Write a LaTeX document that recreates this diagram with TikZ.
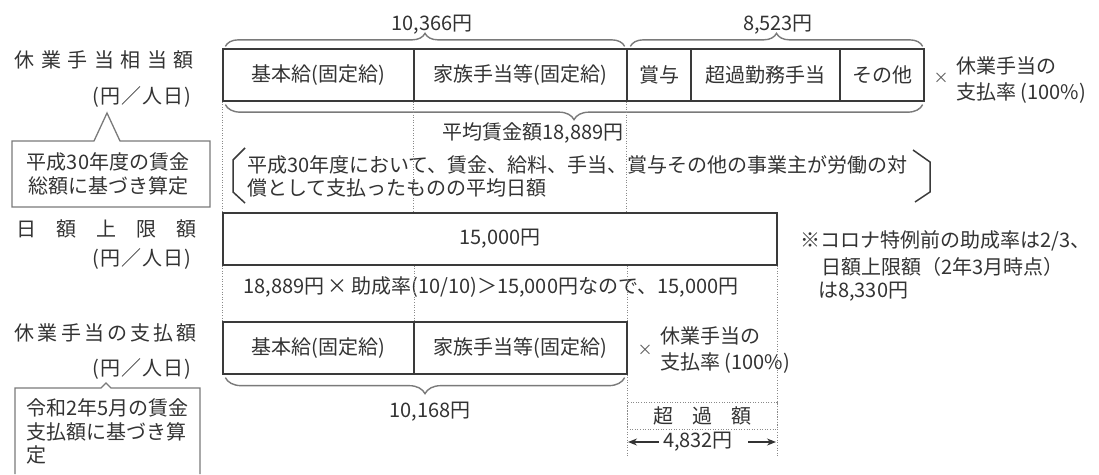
\documentclass[tikz,border=0pt]{standalone}
\usepackage{fontspec}
\setmainfont{Noto Sans CJK JP}
\usetikzlibrary{decorations.pathreplacing,arrows.meta,calc}
\definecolor{txt}{HTML}{333333}
\definecolor{ln}{HTML}{3A3A3A}
\definecolor{br}{HTML}{7A7A7A}
\definecolor{dt}{HTML}{8A8A8A}
\tikzset{
  cell/.style={draw=ln, line width=1.3pt, inner sep=0pt, minimum height=52pt, text=txt},
  lbl/.style={inner sep=0pt, text=txt},
  times/.style={inner sep=0pt, text=txt!80, font=\fontsize{15}{18}\selectfont},
  bracebig/.style={decorate, decoration={brace, amplitude=#1}, draw=br, line width=1.4pt},
  dotl/.style={draw=dt, line width=0.9pt, dash pattern=on 1pt off 1.6pt},
  callout/.style={draw=br, line width=1.3pt},
  paren/.style={draw=ln, line width=1.5pt},
  arr/.style={draw=txt, line width=1.2pt, -{Stealth[length=9pt,width=7pt]}}
}
\begin{document}
\begin{tikzpicture}[x=1pt,y=-1pt, font=\fontsize{20}{24}\selectfont]
\useasboundingbox (0,0) rectangle (1099,474);
\fill[white] (0,0) rectangle (1099,474);

% ---- top row
\node[cell, minimum width=191pt] (k1) at (318.5,75) {基本給(固定給)};
\node[cell, minimum width=213pt] (k2) at (520.5,75) {家族手当等(固定給)};
\node[cell, minimum width=64pt]  (k3) at (659,75)   {賞与};
\node[cell, minimum width=149pt] (k4) at (765.5,75) {超過勤務手当};
\node[cell, minimum width=84pt]  (k5) at (882,75)   {その他};
\node[times] (x1) at (941,78) {×};
\node[lbl, anchor=west, align=left] (r1) at (956,80) {休業手当の\\[2pt]支払率 (100\%)};

% braces above / below top row
\draw[bracebig=13pt] ($(k1.north west)+(3,-2)$) -- ($(k2.north east)+(-3,-2)$);
\draw[bracebig=13pt] ($(k3.north west)+(4,-2)$) -- ($(k5.north east)+(-2,-2)$);
\node[lbl] (s1) at (432,25) {10,366円};
\node[lbl] (s2) at (778,25) {8,523円};
\draw[bracebig=15pt] ($(k5.south east)+(-2,3)$) -- ($(k1.south west)+(3,3)$);
\node[lbl] (avg) at (533,133) {平均賃金額18,889円};

% left labels
\node[lbl, anchor=east] (L1) at (194,60) {\makebox[179pt]{休\hfill 業\hfill 手\hfill 当\hfill 相\hfill 当\hfill 額}};
\node[lbl, anchor=east] (L1u) at (191,97) {\makebox[98pt]{(\hfill 円\hfill ／\hfill 人\hfill 日\hfill )}};
\draw[callout] (12,141) -- (94,141) -- (107,113) -- (120,141) -- (210,141) -- (210,207) -- (12,207) -- cycle;
\node[lbl] (c1a) at (108,162) {平成30年度の賃金};
\node[lbl] (c1b) at (108,186) {総額に基づき算定};

% parenthetical definition
\draw[paren] (245,148) -- (233,160) -- (233,192) -- (245,203);
\draw[paren] (913,150) -- (930,162) -- (930,192) -- (915,202);
\node[lbl, anchor=west] (d1) at (247,165) {平成30年度において、賃金、給料、手当、賞与その他の事業主が労働の対};
\node[lbl, anchor=west] (d2) at (247,188) {償として支払ったものの平均日額};

% daily cap row
\node[cell, minimum width=554pt] (cap) at (500,239) {15,000円};
\node[lbl, anchor=east] (L2) at (197,229) {\makebox[180pt]{日\hfill 額\hfill 上\hfill 限\hfill 額}};
\node[lbl, anchor=east] (L2u) at (191,259) {\makebox[98pt]{(\hfill 円\hfill ／\hfill 人\hfill 日\hfill )}};
\node[lbl] (calc) at (491,287) {18,889円\,×\,助成率(10/10)＞15,000円なので、15,000円};
\node[lbl, anchor=west] (n1) at (800,241) {※コロナ特例前の助成率は2/3、};
\node[lbl, anchor=west] (n2) at (821,267) {日額上限額（2年3月時点）};
\node[lbl, anchor=west] (n3) at (818,292) {は8,330円};

% bottom row
\node[cell, minimum width=191pt] (b1) at (318.5,348) {基本給(固定給)};
\node[cell, minimum width=213pt] (b2) at (520.5,348) {家族手当等(固定給)};
\node[times] (x2) at (645,350) {×};
\node[lbl, anchor=west, align=left] (r2) at (660,350) {休業手当の\\[2pt]支払率 (100\%)};
\draw[bracebig=16pt] ($(b2.south east)+(-3,3)$) -- ($(b1.south west)+(3,3)$);
\node[lbl] (s3) at (430,412) {10,168円};
\node[lbl, anchor=east] (L3) at (197,333) {\makebox[182pt]{休\hfill 業\hfill 手\hfill 当\hfill の\hfill 支\hfill 払\hfill 額}};
\node[lbl, anchor=east] (L3u) at (191,369) {\makebox[98pt]{(\hfill 円\hfill ／\hfill 人\hfill 日\hfill )}};
\draw[callout] (15,474) -- (15,388) -- (101,388) -- (106,383) -- (111,388) -- (200,388) -- (200,474);
\node[lbl, anchor=west] (c2a) at (26,408) {令和2年5月の賃金};
\node[lbl, anchor=west] (c2b) at (26,432) {支払額に基づき算};
\node[lbl, anchor=west] (c2c) at (26,455) {定};

% excess amount
\node[dotl, draw, inner sep=0pt, minimum width=150pt, minimum height=27pt, text=txt] (exc) at (702,415.5) {\makebox[98pt]{超\hfill 過\hfill 額}};
\node[lbl] (amt) at (698,442) {4,832円};
\coordinate (aL) at (628,442);
\coordinate (aR) at (776,442);
\coordinate (aRs) at (748,442);
\draw[arr, shorten <=4pt] (amt.west) -- (aL);
\draw[arr] (aRs) -- (aR);

% dotted guide lines
\coordinate (dend) at (0,456);
\draw[dotl] (k1.south west) -- (cap.north west);
\draw[dotl] (k2.south west) -- (k2.south west |- cap.north);
\draw[dotl] (k3.south west) -- (k3.south west |- cap.north);
\draw[dotl] (cap.south west) -- (b1.north west);
\draw[dotl] (b1.north east |- cap.south) -- (b1.north east);
\draw[dotl] (b2.north east |- cap.south) -- (b2.north east);
\draw[dotl] (b2.south east) -- (b2.south east |- dend);
\draw[dotl] (cap.south east) -- (cap.south east |- dend);
\end{tikzpicture}
\end{document}
